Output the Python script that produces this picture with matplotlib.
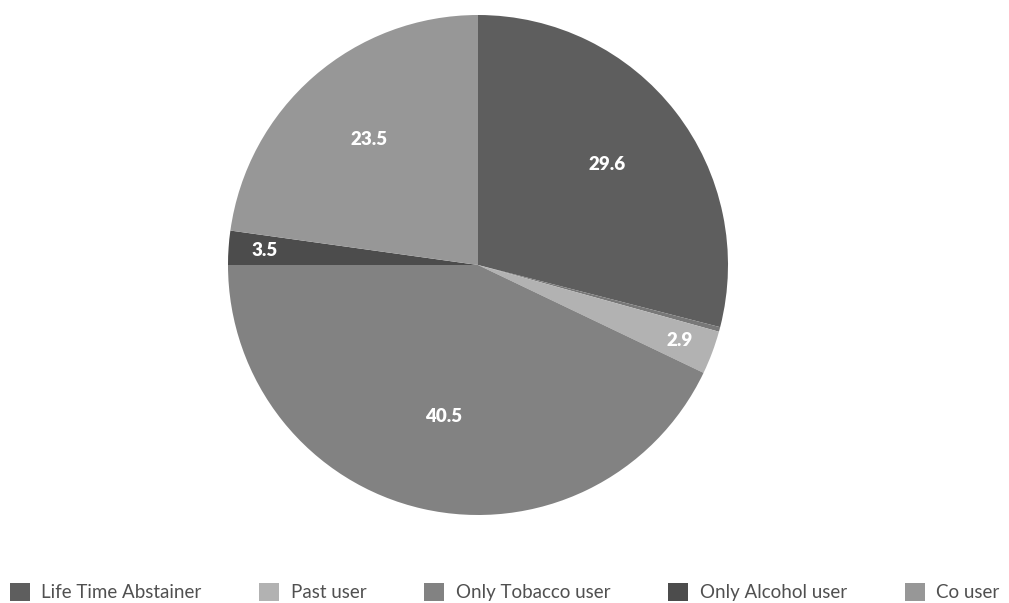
import matplotlib
matplotlib.use("Agg")
import matplotlib.pyplot as plt
import numpy as np
from matplotlib.patches import Patch

# legend categories and printed labels
categories = ["Life Time Abstainer", "Past user", "Only Tobacco user", "Only Alcohol user", "Co user"]
labels = [29.6, 2.9, 40.5, 3.5, 23.5]
# slice sizes as drawn in the picture (percent of the circle), incl. a thin unlabeled sliver
slice_names = ["Life Time Abstainer", "(sliver)", "Past user", "Only Tobacco user", "Only Alcohol user", "Co user"]
slice_sizes = [29.0, 0.3, 2.8, 42.9, 2.2, 22.8]
slice_labels = ["29.6", "", "2.9", "40.5", "3.5", "23.5"]
colors = ["#5e5e5e", "#787878", "#b2b2b2", "#828282", "#4c4c4c", "#979797"]
legend_colors = ["#5e5e5e", "#b2b2b2", "#828282", "#4c4c4c", "#979797"]
label_radius = [0.655, 0, 0.86, 0.62, 0.855, 0.665]

plt.rcParams['font.family'] = ['Lato', 'DejaVu Sans']

W, H = 1009, 603
fig = plt.figure(figsize=(W/100, H/100), dpi=100)
cx, cy, r = 478, 265, 250
ax = fig.add_axes([(cx - r)/W, (H - cy - r)/H, 2*r/W, 2*r/H])
wedges, _ = ax.pie(slice_sizes, colors=colors, startangle=90, counterclock=False, radius=1,
                   wedgeprops=dict(linewidth=0))
ax.set_xlim(-1, 1)
ax.set_ylim(-1, 1)
ax.set_aspect('equal')
ax.axis('off')

for w, t, lr in zip(wedges, slice_labels, label_radius):
    if not t:
        continue
    ang = np.deg2rad((w.theta1 + w.theta2) / 2)
    ax.text(lr*np.cos(ang), lr*np.sin(ang), t, ha='center', va='center',
            color='white', fontsize=13.5, fontweight='heavy')

handles = [Patch(facecolor=c, edgecolor='none') for c in legend_colors]
fig.legend(handles, categories, loc='center', bbox_to_anchor=(0.5, 1 - 592/H), ncol=5,
           frameon=False, fontsize=13.5, handlelength=1.07, handleheight=1.07,
           columnspacing=3.1, handletextpad=0.6, labelcolor='#505050')

fig.savefig("out.png", dpi=100, facecolor='white')
